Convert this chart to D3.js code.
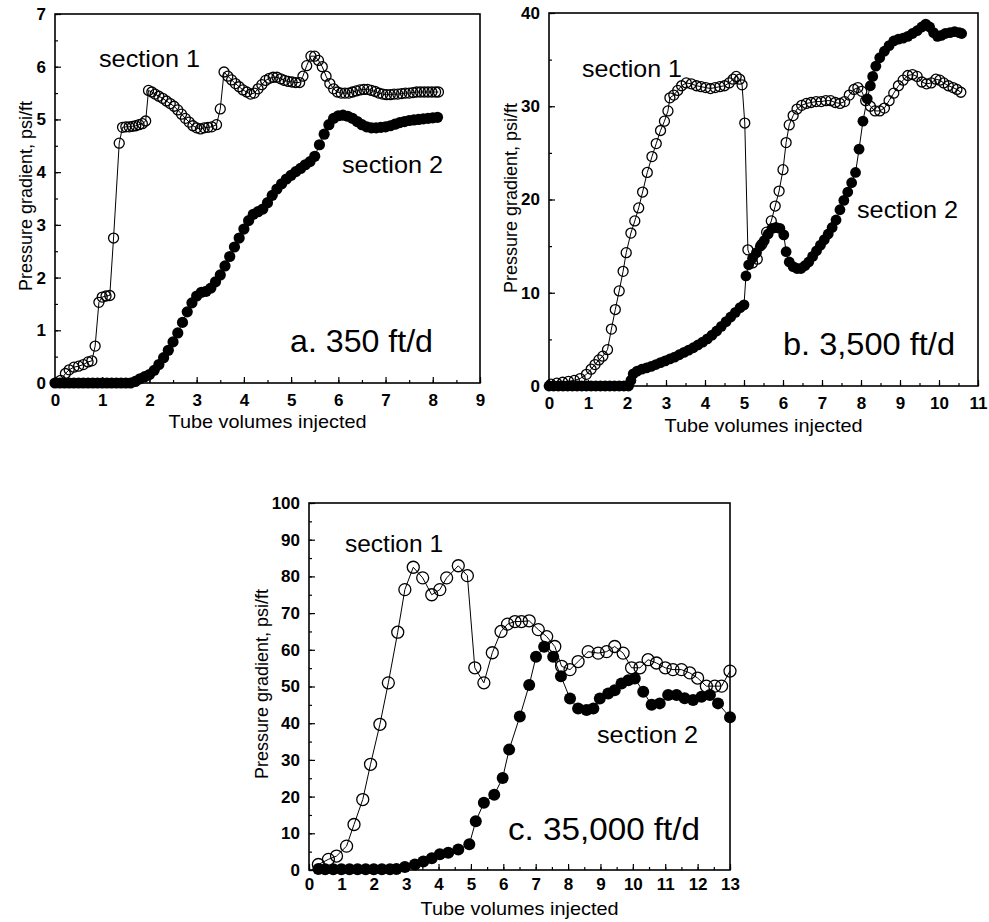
<!DOCTYPE html>
<html>
<head>
<meta charset="utf-8">
<script src="https://cdn.jsdelivr.net/npm/d3@7"></script>
<style>
  body { margin: 0; background: #fff; }
  svg { display: block; }
</style>
</head>
<body>
<div id="chart"></div>
<script>
// ---- data: [tube volumes, pressure gradient psi/ft] ----

// a. 350 ft/d
var aSection1 = [
  [0.12,0.05],[0.22,0.18],[0.3,0.25],[0.4,0.3],[0.5,0.32],[0.6,0.35],[0.7,0.4],[0.78,0.42],[0.85,0.7],
  [0.93,1.53],[1.0,1.63],[1.08,1.65],[1.16,1.66],[1.24,2.75],[1.36,4.55],[1.43,4.85],[1.5,4.86],
  [1.57,4.86],[1.64,4.87],[1.71,4.88],[1.78,4.9],[1.85,4.92],[1.92,4.97],[1.98,5.55],[2.05,5.52],
  [2.12,5.48],[2.2,5.44],[2.28,5.4],[2.36,5.35],[2.44,5.3],[2.52,5.25],[2.6,5.18],[2.68,5.1],
  [2.76,5.02],[2.84,4.95],[2.92,4.88],[3.0,4.84],[3.08,4.82],[3.16,4.84],[3.24,4.85],[3.32,4.86],
  [3.42,4.9],[3.5,5.2],[3.58,5.9],[3.66,5.82],[3.74,5.75],[3.82,5.68],[3.9,5.62],[3.98,5.56],
  [4.06,5.52],[4.14,5.48],[4.22,5.5],[4.3,5.58],[4.38,5.66],[4.46,5.74],[4.54,5.78],[4.62,5.8],
  [4.7,5.8],[4.78,5.77],[4.86,5.74],[4.94,5.72],[5.02,5.71],[5.1,5.7],[5.18,5.7],[5.25,5.82],
  [5.33,6.02],[5.42,6.2],[5.5,6.2],[5.58,6.12],[5.66,6.0],[5.74,5.82],[5.82,5.68],[5.9,5.58],
  [5.98,5.52],[6.06,5.5],[6.14,5.5],[6.22,5.5],[6.3,5.52],[6.38,5.54],[6.46,5.56],[6.54,5.57],
  [6.62,5.57],[6.7,5.55],[6.78,5.53],[6.86,5.5],[6.94,5.48],[7.02,5.47],[7.1,5.47],[7.18,5.48],
  [7.26,5.48],[7.34,5.49],[7.42,5.5],[7.5,5.5],[7.58,5.51],[7.66,5.52],[7.74,5.52],[7.82,5.52],
  [7.9,5.52],[7.98,5.52],[8.06,5.52],[8.12,5.52]
];
var aSection2 = [
  [0.0,0],[0.1,0],[0.2,0],[0.3,0],[0.4,0],[0.5,0],[0.6,0],[0.7,0],[0.8,0],[0.9,0],[1.0,0],
  [1.1,0],[1.2,0],[1.3,0],[1.4,0],[1.5,0],[1.6,0],[1.7,0.03],[1.8,0.08],[1.9,0.12],[2.0,0.16],
  [2.1,0.24],[2.2,0.35],[2.3,0.48],[2.4,0.62],[2.5,0.78],[2.6,0.95],[2.7,1.15],[2.8,1.35],
  [2.9,1.52],[3.0,1.65],[3.1,1.72],[3.2,1.74],[3.3,1.8],[3.4,1.92],[3.5,2.05],[3.6,2.22],
  [3.7,2.4],[3.8,2.58],[3.9,2.75],[4.0,2.92],[4.1,3.08],[4.2,3.2],[4.3,3.25],[4.4,3.3],
  [4.5,3.42],[4.6,3.56],[4.7,3.68],[4.8,3.78],[4.9,3.87],[5.0,3.94],[5.1,4.01],[5.2,4.07],
  [5.3,4.14],[5.4,4.2],[5.5,4.3],[5.6,4.52],[5.7,4.72],[5.8,4.9],[5.9,5.02],[6.0,5.07],
  [6.1,5.08],[6.2,5.06],[6.3,5.02],[6.4,4.96],[6.5,4.9],[6.6,4.86],[6.7,4.84],[6.8,4.84],
  [6.9,4.85],[7.0,4.86],[7.1,4.88],[7.2,4.91],[7.3,4.94],[7.4,4.96],[7.5,4.98],[7.6,4.99],
  [7.7,5.0],[7.8,5.01],[7.9,5.02],[8.0,5.03],[8.1,5.04]
];

// b. 3,500 ft/d
var bSection1 = [
  [0.05,0.2],[0.2,0.3],[0.35,0.4],[0.5,0.5],[0.65,0.6],[0.8,0.8],[0.96,1.25],[1.08,1.8],[1.18,2.3],
  [1.28,2.8],[1.38,3.2],[1.5,3.9],[1.6,6.1],[1.7,8.2],[1.8,10.2],[1.9,12.3],[1.98,14.3],[2.1,16.4],
  [2.2,17.7],[2.3,19.1],[2.4,20.8],[2.52,22.9],[2.64,24.6],[2.75,26.0],[2.86,27.4],[2.96,28.4],
  [3.05,29.5],[3.1,30.9],[3.2,31.2],[3.3,31.7],[3.4,32.2],[3.52,32.5],[3.65,32.4],[3.78,32.2],
  [3.9,32.1],[4.02,32.0],[4.14,31.9],[4.26,32.0],[4.38,32.1],[4.5,32.2],[4.62,32.5],[4.72,32.9],
  [4.8,33.2],[4.89,32.9],[4.95,32.3],[5.02,28.2],[5.1,14.6],[5.22,13.2],[5.34,13.6],[5.46,15.2],
  [5.58,16.5],[5.7,17.7],[5.8,19.3],[5.9,20.9],[6.0,23.2],[6.08,26.1],[6.16,28.0],[6.26,29.0],
  [6.36,29.7],[6.48,30.1],[6.6,30.3],[6.72,30.4],[6.85,30.5],[6.98,30.5],[7.1,30.6],[7.22,30.6],
  [7.34,30.4],[7.46,30.3],[7.58,30.5],[7.7,31.2],[7.82,31.8],[7.92,32.0],[8.02,31.6],[8.12,30.6],
  [8.24,30.0],[8.36,29.5],[8.48,29.5],[8.6,29.8],[8.72,30.6],[8.84,31.4],[8.96,32.2],[9.08,32.8],
  [9.2,33.3],[9.32,33.4],[9.44,33.2],[9.56,32.6],[9.68,32.4],[9.8,32.5],[9.92,32.9],[10.02,32.8],
  [10.12,32.5],[10.24,32.2],[10.36,32.0],[10.46,31.8],[10.56,31.5]
];
var bSection2 = [
  [0,0],[0.12,0],[0.24,0],[0.36,0],[0.48,0],[0.6,0],[0.72,0],[0.84,0],[0.96,0],[1.08,0],[1.2,0],
  [1.32,0],[1.44,0],[1.56,0],[1.68,0],[1.8,0],[1.92,0],[2.04,0],[2.1,0.6],[2.16,1.3],[2.26,1.6],
  [2.38,1.8],[2.5,1.95],[2.62,2.1],[2.74,2.3],[2.86,2.5],[2.98,2.7],[3.1,2.9],[3.22,3.1],
  [3.34,3.35],[3.46,3.6],[3.58,3.85],[3.7,4.1],[3.82,4.4],[3.94,4.7],[4.06,5.05],[4.18,5.45],
  [4.3,5.9],[4.42,6.4],[4.54,6.9],[4.66,7.4],[4.78,7.9],[4.9,8.4],[5.0,8.7],[5.05,11.8],
  [5.12,13.0],[5.22,13.7],[5.32,14.3],[5.42,15.0],[5.52,15.6],[5.62,16.3],[5.72,16.9],[5.82,17.0],
  [5.92,16.9],[6.02,16.2],[6.08,14.4],[6.16,13.3],[6.26,12.8],[6.36,12.6],[6.46,12.6],[6.56,12.9],
  [6.66,13.3],[6.76,13.9],[6.86,14.5],[6.96,15.1],[7.06,15.7],[7.16,16.3],[7.26,17.0],[7.36,17.8],
  [7.46,18.9],[7.56,19.9],[7.66,20.8],[7.76,21.8],[7.86,22.9],[7.95,25.4],[8.05,28.4],[8.16,30.8],
  [8.24,32.2],[8.3,33.2],[8.38,34.3],[8.48,35.2],[8.6,35.9],[8.72,36.5],[8.84,37.0],[8.96,37.2],
  [9.08,37.3],[9.2,37.5],[9.32,37.8],[9.44,38.1],[9.56,38.5],[9.66,38.8],[9.76,38.5],[9.86,37.9],
  [9.96,37.5],[10.06,37.6],[10.16,37.8],[10.28,37.9],[10.4,38.0],[10.52,37.9],[10.58,37.8]
];

// c. 35,000 ft/d
var cSection1 = [
  [0.29,1.5],[0.6,2.9],[0.85,3.8],[1.16,6.5],[1.39,12.4],[1.66,19.2],[1.9,28.8],[2.19,39.7],
  [2.45,51.0],[2.74,64.8],[2.96,76.4],[3.22,82.5],[3.51,79.6],[3.79,75.0],[4.04,76.4],[4.25,79.6],
  [4.61,82.9],[4.89,80.2],[5.12,55.1],[5.4,51.0],[5.66,59.2],[5.93,65.0],[6.13,67.0],[6.36,67.7],
  [6.56,67.7],[6.8,67.9],[7.08,65.5],[7.34,63.6],[7.59,60.9],[7.8,55.5],[8.06,54.6],[8.31,56.8],
  [8.62,59.5],[8.93,59.1],[9.19,59.5],[9.44,60.9],[9.7,59.1],[9.96,55.1],[10.22,55.1],[10.47,57.3],
  [10.73,56.4],[11.0,55.1],[11.24,54.6],[11.5,54.6],[11.76,53.7],[12.0,52.3],[12.27,50.1],
  [12.53,50.1],[12.74,50.1],[13.0,54.2]
];
var cSection2 = [
  [0.29,0.3],[0.5,0.2],[0.75,0.2],[1.0,0.2],[1.25,0.2],[1.5,0.2],[1.75,0.2],[2.0,0.2],[2.25,0.2],
  [2.5,0.2],[2.7,0.3],[2.96,0.8],[3.27,1.5],[3.53,2.3],[3.79,3.2],[4.04,4.3],[4.3,4.7],[4.61,5.6],
  [4.95,7.0],[5.15,13.3],[5.4,18.3],[5.72,20.5],[5.98,25.1],[6.18,32.8],[6.51,41.8],[6.8,50.4],
  [7.01,58.1],[7.26,60.8],[7.54,58.1],[7.78,52.8],[8.06,46.7],[8.31,44.0],[8.57,43.6],[8.78,44.0],
  [8.98,46.7],[9.24,48.1],[9.44,49.0],[9.65,50.8],[9.86,51.7],[10.06,52.2],[10.32,48.6],
  [10.58,45.0],[10.83,45.4],[11.09,47.7],[11.35,47.7],[11.6,46.8],[11.86,46.3],[12.12,47.2],
  [12.38,47.7],[12.63,45.4],[13.0,41.6]
];

var xTitle = "Tube volumes injected";
var yTitle = "Pressure gradient, psi/ft";

// ---- layout ----
var svg = d3.select("#chart").append("svg")
  .attr("width", 989)
  .attr("height", 922);

var FONT = "'Liberation Sans', Arial, Helvetica, sans-serif";

var panels = [
  { left: 55, right: 480, top: 14, bottom: 383, xMax: 9, yMax: 7, yStep: 1, yMinor: 0.5,
    s1: aSection1, s2: aSection2, r1: 5, r2: 5.6, xPad: 11, yTitleX: 32, yTitleY: 196,
    notes: [
      { t: "section 1", x: 99, y: 67, size: 24, len: 101 },
      { t: "section 2", x: 342, y: 173, size: 24, len: 101 },
      { t: "a. 350 ft/d", x: 290, y: 352, size: 32, len: 143 }
    ], xTitleY: 428 },
  { left: 549, right: 978, top: 13, bottom: 386, xMax: 11, yMax: 40, yStep: 10, yMinor: 5,
    s1: bSection1, s2: bSection2, r1: 5, r2: 5.4, xPad: 11, yTitleX: 517, yTitleY: 198,
    notes: [
      { t: "section 1", x: 582, y: 77, size: 24, len: 100 },
      { t: "section 2", x: 857, y: 218, size: 24, len: 101 },
      { t: "b. 3,500 ft/d", x: 783, y: 355, size: 32, len: 172 }
    ], xTitleY: 432 },
  { left: 309, right: 730, top: 503, bottom: 870, xMax: 13, yMax: 100, yStep: 10, yMinor: 5,
    s1: cSection1, s2: cSection2, r1: 6, r2: 6, xPad: 8, yTitleX: 268, yTitleY: 684,
    notes: [
      { t: "section 1", x: 345, y: 552, size: 24, len: 98 },
      { t: "section 2", x: 597, y: 743, size: 24, len: 101 },
      { t: "c. 35,000 ft/d", x: 508, y: 840, size: 32, len: 192 }
    ], xTitleY: 915 }
];

panels.forEach(function(p) {
  var x = d3.scaleLinear().domain([0, p.xMax]).range([p.left, p.right]);
  var y = d3.scaleLinear().domain([0, p.yMax]).range([p.bottom, p.top]);

  var g = svg.append("g");

  // minor ticks first, then major
  var xMinorVals = d3.range(0, p.xMax + 0.001, 0.5);
  var yMinorVals = d3.range(0, p.yMax + 0.001, p.yMinor);

  g.append("g")
    .attr("transform", `translate(0, ${p.bottom})`)
    .call(d3.axisBottom(x).tickValues(xMinorVals).tickSize(-3).tickFormat(""))
    .call(s => s.select(".domain").remove());
  g.append("g")
    .attr("transform", `translate(${p.left}, 0)`)
    .call(d3.axisLeft(y).tickValues(yMinorVals).tickSize(-3).tickFormat(""))
    .call(s => s.select(".domain").remove());

  var xAxis = g.append("g")
    .attr("transform", `translate(0, ${p.bottom})`)
    .call(d3.axisBottom(x).tickValues(d3.range(0, p.xMax + 1, 1)).tickSize(-6).tickPadding(p.xPad).tickFormat(d3.format("d")));
  var yAxis = g.append("g")
    .attr("transform", `translate(${p.left}, 0)`)
    .call(d3.axisLeft(y).tickValues(d3.range(0, p.yMax + 0.001, p.yStep)).tickSize(-6).tickPadding(9).tickFormat(d3.format("d")));

  [xAxis, yAxis].forEach(function(a) {
    a.select(".domain").remove();
    a.selectAll("text")
      .attr("font-family", FONT)
      .attr("font-weight", "bold")
      .attr("font-size", 17)
      .attr("fill", "#000");
  });
  g.selectAll(".tick line").attr("stroke", "#000").attr("stroke-width", 1.2);

  // frame
  g.append("rect")
    .attr("x", p.left).attr("y", p.top)
    .attr("width", p.right - p.left).attr("height", p.bottom - p.top)
    .attr("fill", "none").attr("stroke", "#000").attr("stroke-width", 1.6);

  var line = d3.line().x(d => x(d[0])).y(d => y(d[1]));

  // section 1: open circles
  g.append("path").datum(p.s1)
    .attr("d", line).attr("fill", "none").attr("stroke", "#000").attr("stroke-width", 1);
  g.append("g").selectAll("circle")
    .data(p.s1)
    .enter()
    .append("circle")
    .attr("cx", d => x(d[0]))
    .attr("cy", d => y(d[1]))
    .attr("r", p.r1)
    .attr("fill", "none")
    .attr("stroke", "#000")
    .attr("stroke-width", 1.3);

  // section 2: filled circles
  g.append("path").datum(p.s2)
    .attr("d", line).attr("fill", "none").attr("stroke", "#000").attr("stroke-width", 1);
  g.append("g").selectAll("circle")
    .data(p.s2)
    .enter()
    .append("circle")
    .attr("cx", d => x(d[0]))
    .attr("cy", d => y(d[1]))
    .attr("r", p.r2)
    .attr("fill", "#000");

  // axis titles
  g.append("text")
    .attr("x", (p.left + p.right) / 2)
    .attr("y", p.xTitleY)
    .attr("text-anchor", "middle")
    .attr("font-family", FONT)
    .attr("font-size", 19)
    .attr("textLength", 198)
    .attr("lengthAdjust", "spacingAndGlyphs")
    .text(xTitle);
  g.append("text")
    .attr("transform", `translate(${p.yTitleX}, ${p.yTitleY}) rotate(-90)`)
    .attr("text-anchor", "middle")
    .attr("font-family", FONT)
    .attr("font-size", 18)
    .text(yTitle);

  // annotations
  p.notes.forEach(function(n) {
    g.append("text")
      .attr("x", n.x).attr("y", n.y)
      .attr("font-family", FONT)
      .attr("font-size", n.size)
      .attr("textLength", n.len)
      .attr("lengthAdjust", "spacingAndGlyphs")
      .text(n.t);
  });
});
</script>
</body>
</html>
